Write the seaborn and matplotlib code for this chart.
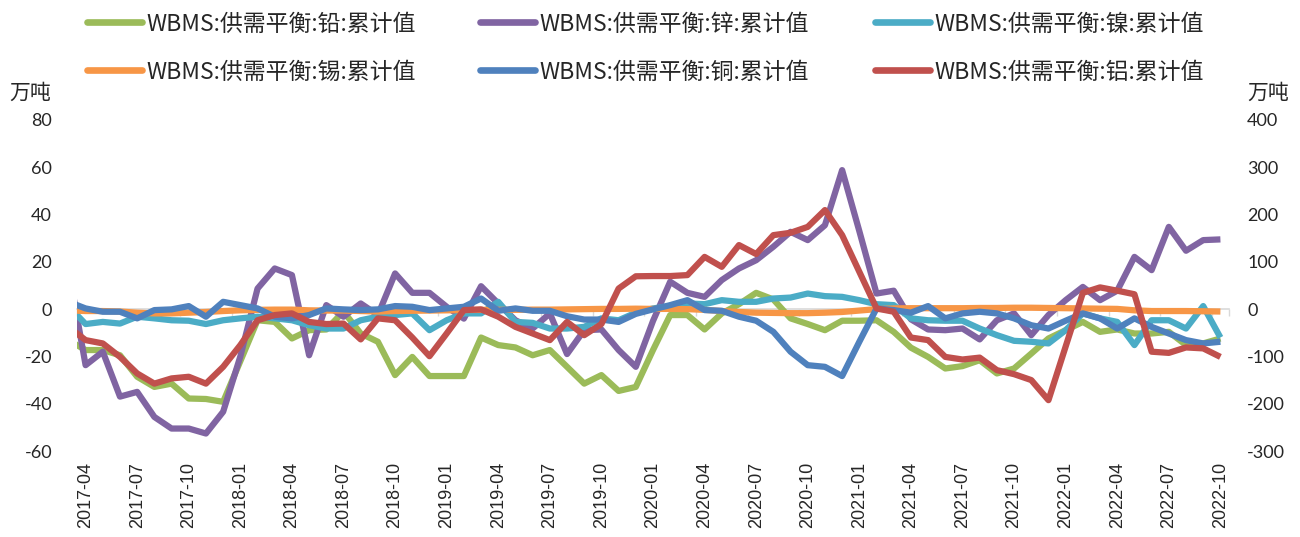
import numpy as np
import pandas as pd
import matplotlib
matplotlib.use("Agg")
import matplotlib.pyplot as plt
from matplotlib.lines import Line2D
import seaborn as sns

# Monthly periods (2017-03 lies just before the visible range)
months = pd.period_range("2017-03", "2022-10", freq="M").strftime("%Y-%m").tolist()

# Supply/demand balance, cumulative (万吨)
lead = [-13.1, -17.3, -17.3, -19.5, -28.6, -32.9, -31.5, -37.8, -38.0, -39.2, -22.0,
        -4.7, -5.4, -12.4, -8.9, -8.6, -1.0, -10.3, -13.8, -27.9, -20.2, -28.3,
        -28.3, -28.3, -12.0, -15.2, -16.2, -19.5, -17.3, -24.4, -31.5, -27.9, -34.6,
        -32.9, -17.3, -2.5, -2.5, -8.6, -1.8, 2.1, 6.9, 4.1, -3.9, -6.3, -8.9,
        -4.9, -4.9, -4.7, -9.6, -16.3, -20.2, -25.1, -24.1, -21.6, -27.2, -25.1,
        -18.8, -12.4, -8.9, -5.4, -9.6, -8.6, -10.3, -10.3, -9.6, -15.2, -14.5, -12.4]
zinc = [17.3, -23.7, -18.0, -37.0, -35.0, -45.6, -50.5, -50.5, -52.6, -43.4, -20.0,
        8.7, 17.2, 14.4, -19.5, 1.7, -3.2, 2.4, -2.5, 15.1, 6.9, 6.9,
        1.0, -4.0, 9.7, 2.4, -4.7, -8.2, -1.8, -19.0, -8.9, -8.6, -17.3,
        -24.4, -5.0, 11.6, 6.9, 5.2, 12.3, 17.2, 20.7, 26.4, 32.7, 29.2, 35.5,
        58.8, 33.0, 6.6, 7.8, -4.3, -8.6, -8.9, -8.2, -12.8, -4.7, -1.8,
        -11.0, -2.5, 3.8, 9.4, 3.8, 7.8, 22.1, 16.5, 34.8, 24.7, 29.2, 29.5]
nickel = [1.3, -6.3, -5.4, -6.1, -3.2, -3.9, -4.7, -4.9, -6.3, -4.7, -3.9,
          -3.2, -3.9, -4.7, -6.8, -8.2, -8.2, -4.7, -3.2, -2.5, -1.8, -8.9,
          -4.7, -1.8, -1.8, 3.1, -5.4, -5.8, -8.2, -8.2, -7.5, -3.9, -4.7,
          -1.5, 0.3, 1.3, 2.4, 2.1, 3.8, 3.1, 3.1, 4.5, 4.9, 6.6, 5.5,
          5.2, 3.8, 2.1, 1.7, -3.9, -4.7, -4.9, -4.9, -8.2, -11.0, -13.4,
          -13.8, -14.5, -8.9, -1.8, -3.9, -5.4, -15.2, -4.7, -4.7, -8.2, 1.3, -12.0]
tin = [-0.5, -0.8, -0.8, -1.0, -1.5, -1.8, -1.8, -1.5, -1.2, -0.8, -0.5,
       -0.3, -0.2, -0.2, -0.5, -0.6, -0.6, -0.8, -1.0, -0.8, -0.7, -0.6,
       -0.5, -0.4, -0.3, -0.3, -0.3, -0.2, -0.2, -0.1, 0.0, 0.1, 0.1,
       0.2, 0.1, 0.1, 0.0, -0.3, -0.8, -1.2, -1.5, -1.6, -1.7, -1.7, -1.5,
       -1.2, -0.6, 0.0, 0.3, 0.4, 0.4, 0.4, 0.4, 0.5, 0.5, 0.6,
       0.6, 0.5, 0.4, 0.3, 0.2, 0.1, -0.5, -0.8, -0.8, -0.8, -0.9, -1.0]
copper = [3.1, 0.3, -1.1, -1.1, -3.9, -0.4, -0.1, 1.3, -3.2, 3.1, 1.7,
          0.3, -3.2, -3.9, -2.5, 0.3, -0.1, -0.4, -0.1, 1.3, 1.0, -0.4,
          0.3, 1.0, 4.5, -0.7, 0.3, -0.7, -0.7, -3.0, -4.4, -4.4, -5.4,
          -2.0, -0.1, 1.7, 3.8, -0.4, -0.7, -3.2, -4.9, -9.6, -18.0, -23.7, -24.4,
          -28.3, -13.8, 0.3, -0.4, -1.5, 1.3, -3.9, -1.8, -1.1, -1.8, -3.9,
          -6.8, -8.2, -4.9, -1.8, -3.9, -8.2, -3.9, -7.5, -10.3, -13.1, -14.5, -13.8]
# aluminium is read against the right-hand axis
aluminium = [-37.5, -65.5, -72.5, -101.0, -136.0, -157.5, -146.5, -143.0, -157.5, -122.0, -76.0,
             -23.5, -12.5, -9.0, -27.0, -31.5, -30.5, -64.0, -19.5, -23.5, -60.0, -99.5,
             -51.5, -2.0, -0.5, -16.0, -37.5, -51.5, -65.5, -27.0, -55.0, -31.5, 43.5,
             69.5, 70.0, 70.0, 72.0, 110.5, 89.5, 135.5, 116.5, 156.5, 161.5, 174.0, 209.5,
             156.5, 79.0, 1.5, -5.5, -60.0, -65.5, -101.0, -106.5, -102.5, -129.0, -137.5,
             -150.0, -192.5, -79.0, 34.5, 46.0, 39.0, 31.5, -90.0, -92.5, -81.0, -83.0, -101.0]

left_names = ["WBMS:供需平衡:铅:累计值", "WBMS:供需平衡:锌:累计值", "WBMS:供需平衡:镍:累计值",
              "WBMS:供需平衡:锡:累计值", "WBMS:供需平衡:铜:累计值"]
right_name = "WBMS:供需平衡:铝:累计值"
left_colors = ["#9BBB59", "#8064A2", "#4BACC6", "#F79646", "#4F81BD"]
right_color = "#C0504D"

idx = np.arange(len(months)) - 1  # 0 == 2017-04

left_df = pd.concat(
    [pd.DataFrame({"idx": idx, "value": vals, "series": name})
     for name, vals in zip(left_names, [lead, zinc, nickel, tin, copper])],
    ignore_index=True)
right_df = pd.DataFrame({"idx": idx, "value": aluminium, "series": right_name})

sns.set_style("white")
plt.rcParams["font.family"] = ["Noto Sans CJK SC", "DejaVu Sans"]

W, H = 1300, 537
fig = plt.figure(figsize=(W / 100, H / 100), dpi=100)
ax = fig.add_axes([77 / W, 1 - 451 / H, (1229 - 77) / W, (451 - 120) / H])
ax2 = ax.twinx()

lw = 4.5
sns.lineplot(data=left_df, x="idx", y="value", hue="series", hue_order=left_names,
             palette=left_colors, linewidth=lw, legend=False, sort=False, ax=ax)
sns.lineplot(data=right_df, x="idx", y="value", color=right_color,
             linewidth=lw, legend=False, sort=False, ax=ax2)
for line in ax.lines + ax2.lines:
    line.set_solid_joinstyle("round")
    line.set_solid_capstyle("butt")

ax.set_xlim(-0.5, 66.5)
ax.set_ylim(-60, 80)
ax2.set_ylim(-300, 400)

# date labels every three months
tick_pos = np.arange(0, 67, 3)
ax.set_xticks(tick_pos)
ax.set_xticklabels([months[p + 1] for p in tick_pos], rotation=90,
                   fontfamily="Liberation Sans", fontsize=13)
ax.tick_params(axis="x", length=0, pad=8)
ax.set_xlabel("")

ax.set_yticks(np.arange(-60, 81, 20))
ax.set_yticklabels([str(v) for v in range(-60, 81, 20)], fontfamily="Lato", fontsize=13)
ax.tick_params(axis="y", length=0, pad=18)
ax.set_ylabel("")

ax2.set_yticks(np.arange(-300, 401, 100))
ax2.set_yticklabels([str(v) for v in range(-300, 401, 100)], fontfamily="Lato", fontsize=13)
ax2.tick_params(axis="y", length=0, pad=13)
ax2.set_ylabel("")

for a in (ax, ax2):
    for s in a.spines.values():
        s.set_visible(False)

# horizontal category axis running through zero
zero_frac = (0 - (-60)) / (80 - (-60))
sec = ax.secondary_xaxis(zero_frac)
sec.set_xticks(np.append(tick_pos - 0.5, 66.5))
sec.tick_params(axis="x", length=5, width=1, color="#d9d9d9", labelbottom=False, direction="out")
for k, s in sec.spines.items():
    s.set_visible(k == "bottom")
sec.spines["bottom"].set_color("#d9d9d9")
sec.spines["bottom"].set_linewidth(1.2)

# unit captions
fig.text(9 / W, 1 - 93 / H, "万吨", fontsize=15, ha="left", va="center")
fig.text(1289 / W, 1 - 93 / H, "万吨", fontsize=15, ha="right", va="center")

# legend: two rows of three entries, each placed on its own grid slot
names_all = left_names + [right_name]
colors_all = left_colors + [right_color]
col_x = [87, 480, 875]
row_y = [24, 72]
for i, (name, color) in enumerate(zip(names_all, colors_all)):
    r, c = divmod(i, 3)
    leg = fig.legend([Line2D([], [], color=color, linewidth=4.8, solid_capstyle="round")],
                     [name], loc="center left",
                     bbox_to_anchor=(col_x[c] / W, 1 - row_y[r] / H),
                     frameon=False, fontsize=16.5, handlelength=2.4,
                     handletextpad=0.2, borderpad=0, borderaxespad=0)

fig.savefig("out.png", dpi=100)
